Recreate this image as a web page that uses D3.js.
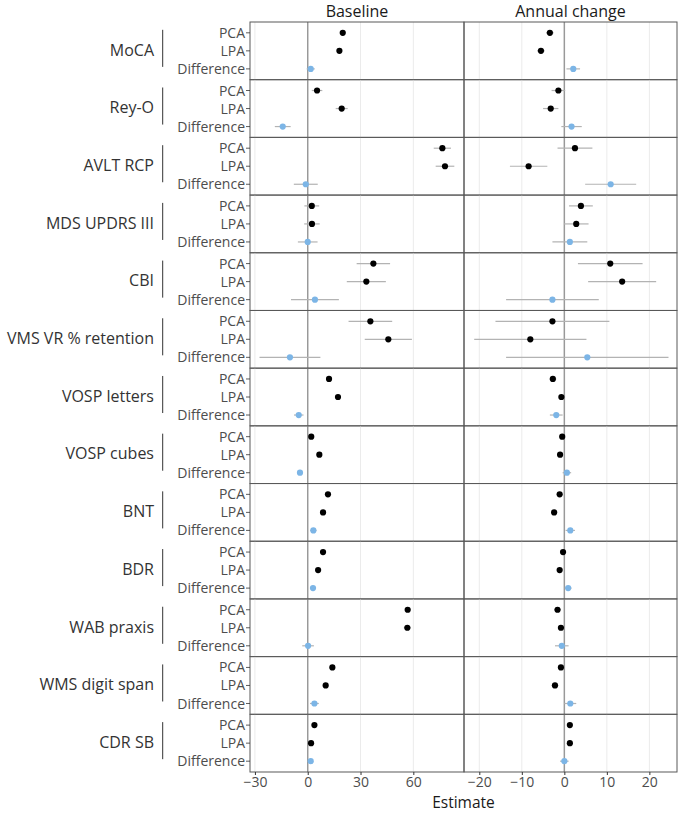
<!DOCTYPE html>
<html lang="en">
<head>
<meta charset="utf-8">
<title>Estimates forest plot</title>
<script src="https://cdn.jsdelivr.net/npm/d3@7"></script>
<style>
  body { margin: 0; background: #fff; }
  text { font-family: "Open Sans", "Noto Sans", sans-serif; }
</style>
</head>
<body>
<script>
var W = 680, H = 813;

// data
var measures = ["MoCA", "Rey-O", "AVLT RCP", "MDS UPDRS III", "CBI", "VMS VR % retention",
  "VOSP letters", "VOSP cubes", "BNT", "BDR", "WAB praxis", "WMS digit span", "CDR SB"];
var rows = ["PCA", "LPA", "Difference"];
var facets = ["Baseline", "Annual change"];

// each measure: [PCA, LPA, Difference] estimates and CI half widths
var baseEst = [
  [19.9, 18.0, 1.7], [5.3, 19.3, -14.2], [76.5, 78.0, -1.1], [2.3, 2.4, 0.0],
  [37.3, 33.3, 4.1], [35.6, 45.8, -10.1], [12.1, 17.2, -5.1], [2.0, 6.6, -4.4],
  [11.5, 8.7, 3.2], [8.7, 5.9, 3.0], [56.8, 56.6, 0.2], [14.0, 10.2, 3.8], [3.8, 1.9, 1.7]];
var baseCI = [
  [1.2, 1.2, 2.3], [3.0, 3.4, 4.5], [4.9, 5.3, 6.8], [4.2, 4.4, 5.6],
  [9.5, 11.1, 13.6], [12.4, 13.4, 17.3], [1.0, 1.0, 2.7], [0.8, 0.8, 1.5],
  [1.0, 1.0, 1.8], [0.8, 0.8, 1.2], [1.2, 2.0, 3.3], [1.0, 1.0, 2.5], [0.8, 0.8, 1.2]];
var annEst = [
  [-3.4, -5.5, 2.1], [-1.4, -3.2, 1.7], [2.5, -8.4, 10.9], [3.9, 2.8, 1.3],
  [10.8, 13.6, -2.8], [-2.8, -8.0, 5.4], [-2.7, -0.7, -1.9], [-0.5, -1.0, 0.6],
  [-1.1, -2.4, 1.4], [-0.3, -1.1, 0.9], [-1.6, -0.8, -0.6], [-0.8, -2.2, 1.4], [1.3, 1.3, 0.0]];
var annCI = [
  [0.9, 0.9, 1.6], [1.6, 1.8, 2.4], [4.1, 4.4, 6.0], [2.8, 2.9, 4.1],
  [7.6, 8.0, 10.9], [13.4, 13.2, 19.1], [0.8, 0.5, 1.5], [0.4, 0.4, 1.0],
  [0.5, 0.5, 1.1], [0.4, 0.4, 0.8], [0.8, 0.6, 1.6], [0.5, 0.8, 1.4], [0.4, 0.4, 1.0]];
var baseTicks = [-30, 0, 30, 60];
var annTicks = [-20, -10, 0, 10, 20];

var svg = d3.select("body").append("svg").attr("width", W).attr("height", H);

var plotTop = 22, plotBottom = 772, left = 250, mid = 464, right = 677;
var panelH = (plotBottom - plotTop) / measures.length;

var xs = [
  d3.scaleLinear().domain([-32.8, 88.8]).range([left, mid]),
  d3.scaleLinear().domain([-23.6, 26.5]).range([mid, right])
];
var est = [baseEst, annEst], ci = [baseCI, annCI], ticks = [baseTicks, annTicks];

var yband = d3.scalePoint().domain(rows).range([0, panelH]).padding(0.6);

// facet titles
facets.forEach(function (f, k) {
  var r = xs[k].range();
  svg.append("text").attr("x", (r[0] + r[1]) / 2).attr("y", 17)
    .attr("text-anchor", "middle").attr("font-size", 16).attr("fill", "#1a1a1a").text(f);
});

measures.forEach(function (m, i) {
  var y0 = plotTop + i * panelH;
  var g = svg.append("g").attr("transform", "translate(0," + y0 + ")");

  facets.forEach(function (f, k) {
    var x = xs[k], r = x.range();
    // grid
    g.selectAll(null).data(ticks[k].filter(function (t) { return t !== 0; })).enter()
      .append("line")
      .attr("x1", function (t) { return x(t); }).attr("x2", function (t) { return x(t); })
      .attr("y1", 0).attr("y2", panelH)
      .attr("stroke", "#ebebeb").attr("stroke-width", 1);
    // zero line
    g.append("line").attr("x1", x(0)).attr("x2", x(0)).attr("y1", 0).attr("y2", panelH)
      .attr("stroke", "#999").attr("stroke-width", 1.5);

    var d = rows.map(function (rw, j) {
      return { row: rw, v: est[k][i][j], h: ci[k][i][j] };
    });
    g.selectAll(null).data(d).enter().append("line")
      .attr("x1", function (p) { return x(p.v - p.h); })
      .attr("x2", function (p) { return x(p.v + p.h); })
      .attr("y1", function (p) { return yband(p.row); })
      .attr("y2", function (p) { return yband(p.row); })
      .attr("stroke", "#b3b3b3").attr("stroke-width", 1.2);
    g.selectAll(null).data(d).enter().append("circle")
      .attr("cx", function (p) { return x(p.v); })
      .attr("cy", function (p) { return yband(p.row); })
      .attr("r", 3.1)
      .attr("fill", function (p) { return p.row === "Difference" ? "#7cb5e6" : "#000"; });

    // border
    g.append("rect").attr("x", r[0]).attr("y", 0).attr("width", r[1] - r[0]).attr("height", panelH)
      .attr("fill", "none").attr("stroke", "#595959").attr("stroke-width", 1);
  });

  // row labels & ticks
  rows.forEach(function (rw) {
    var yy = yband(rw);
    g.append("line").attr("x1", left - 4).attr("x2", left).attr("y1", yy).attr("y2", yy)
      .attr("stroke", "#333").attr("stroke-width", 0.8);
    g.append("text").attr("x", left - 5).attr("y", yy).attr("dy", "0.36em")
      .attr("text-anchor", "end").attr("font-size", 14).attr("fill", "#4d4d4d").text(rw);
  });

  // measure label with bracket line
  g.append("line").attr("x1", 162.7).attr("x2", 162.7)
    .attr("y1", yband("PCA") - 3).attr("y2", yband("Difference") - 2)
    .attr("stroke", "#333").attr("stroke-width", 1);
  g.append("text").attr("x", 154).attr("y", panelH / 2 - 1).attr("dy", "0.36em")
    .attr("text-anchor", "end").attr("font-size", 16).attr("fill", "#333").text(m);
});

// x axes
facets.forEach(function (f, k) {
  var ax = svg.append("g").attr("transform", "translate(0," + plotBottom + ")")
    .call(d3.axisBottom(xs[k]).tickValues(ticks[k]).tickSize(3).tickPadding(2).tickSizeOuter(0)
      .tickFormat(function (t) { return t < 0 ? "\u2212" + Math.abs(t) : t; }));
  ax.select(".domain").remove();
  ax.selectAll(".tick line").attr("stroke", "#333");
  ax.selectAll(".tick text").attr("font-size", 14).attr("fill", "#4d4d4d")
    .attr("font-family", "Open Sans, Noto Sans, sans-serif").attr("dy", "0.71em");
});

svg.append("text").attr("x", (left + right) / 2).attr("y", 808)
  .attr("text-anchor", "middle").attr("font-size", 15.5).attr("fill", "#1a1a1a").text("Estimate");
</script>
</body>
</html>
